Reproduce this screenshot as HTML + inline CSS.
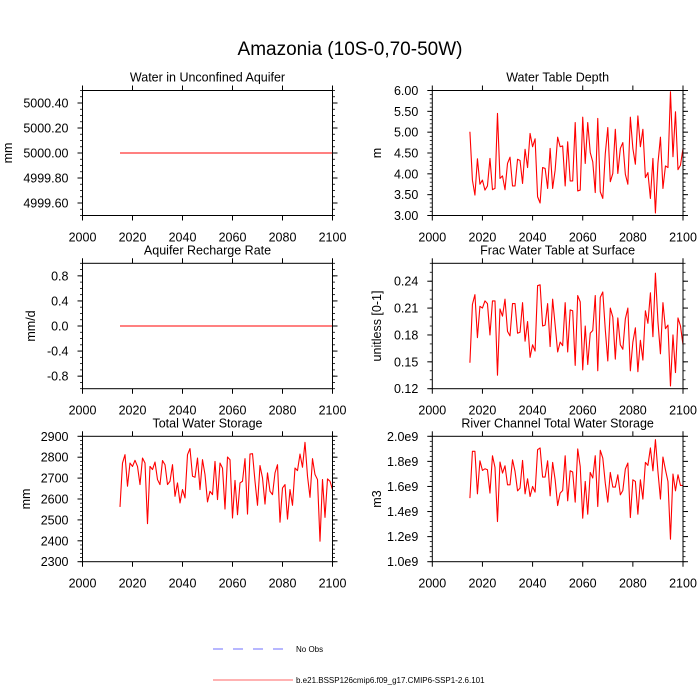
<!DOCTYPE html>
<html><head><meta charset="utf-8"><style>
body{margin:0;background:#fff;}
svg{display:block;font-family:"Liberation Sans",sans-serif;}
</style></head><body>
<svg id="chart" width="700" height="700" viewBox="0 0 700 700">
<text x="350" y="55" text-anchor="middle" font-size="19">Amazonia (10S-0,70-50W)</text>
<g>
<line x1="213" y1="649" x2="287" y2="649" stroke="#6f6fff" stroke-width="1" stroke-dasharray="10,10"/>
<text x="296" y="652" font-size="8">No Obs</text>
<line x1="213" y1="680" x2="293" y2="680" stroke="#ff6666" stroke-width="1"/>
<text x="296" y="683" font-size="8">b.e21.BSSP126cmip6.f09_g17.CMIP6-SSP1-2.6.101</text>
</g>
</svg>
<script>
const years = []; for (let y = 2015; y <= 2100; y++) years.push(y);
const aquiferWater = years.map(() => 5000.0);
const rechargeRate = years.map(() => 0.0);
const waterTableDepth = [5.01,3.85,3.49,4.36,3.75,3.85,3.61,3.71,4.37,3.62,3.65,5.45,3.89,3.95,3.62,4.25,4.40,3.71,3.71,4.35,4.32,3.77,4.59,4.15,4.97,4.65,4.84,3.45,3.30,4.15,4.13,3.65,4.61,3.65,4.09,4.88,4.65,4.67,3.71,4.77,3.83,3.83,5.23,3.59,3.61,5.36,4.25,5.23,4.51,4.29,3.55,5.33,3.57,3.41,4.48,5.11,3.81,4.01,5.07,4.01,4.61,4.75,3.99,3.75,5.36,4.61,4.23,5.39,4.65,5.07,3.91,4.03,3.41,4.37,3.06,4.25,4.88,3.65,4.19,4.15,5.97,4.41,5.49,4.10,4.21,4.61];
const fracWaterTable = [0.149,0.214,0.225,0.177,0.212,0.210,0.218,0.215,0.180,0.218,0.218,0.135,0.209,0.201,0.220,0.184,0.179,0.215,0.215,0.182,0.183,0.216,0.173,0.195,0.155,0.169,0.162,0.235,0.236,0.190,0.191,0.215,0.167,0.220,0.191,0.161,0.172,0.168,0.216,0.161,0.208,0.207,0.146,0.224,0.217,0.141,0.190,0.147,0.182,0.185,0.224,0.140,0.222,0.228,0.186,0.151,0.210,0.200,0.153,0.199,0.169,0.164,0.198,0.210,0.140,0.172,0.188,0.139,0.174,0.152,0.207,0.193,0.227,0.178,0.249,0.195,0.159,0.216,0.187,0.191,0.123,0.180,0.138,0.199,0.190,0.169];
const totalWaterStorage = [2562,2772,2812,2661,2772,2756,2785,2756,2669,2796,2772,2482,2756,2741,2777,2693,2669,2784,2764,2669,2685,2764,2613,2677,2581,2645,2605,2812,2841,2709,2704,2796,2645,2788,2717,2586,2637,2621,2780,2597,2772,2748,2552,2801,2788,2509,2689,2525,2677,2685,2793,2528,2815,2817,2685,2570,2760,2701,2576,2725,2637,2621,2725,2764,2489,2653,2669,2504,2645,2570,2748,2736,2815,2752,2871,2709,2608,2793,2717,2693,2398,2693,2512,2696,2685,2645];
const riverStorage = [1.507,1.880,1.880,1.541,1.805,1.728,1.741,1.733,1.547,1.845,1.752,1.320,1.795,1.707,1.765,1.613,1.613,1.813,1.720,1.565,1.587,1.808,1.541,1.661,1.520,1.600,1.555,1.893,1.907,1.675,1.675,1.805,1.525,1.792,1.653,1.448,1.547,1.568,1.845,1.485,1.725,1.715,1.475,1.899,1.760,1.347,1.640,1.379,1.712,1.667,1.845,1.440,1.888,1.827,1.627,1.475,1.712,1.595,1.595,1.693,1.533,1.568,1.739,1.787,1.352,1.653,1.640,1.379,1.653,1.499,1.792,1.768,1.907,1.725,1.973,1.720,1.499,1.835,1.733,1.640,1.179,1.699,1.565,1.693,1.608,1.608].map(v => v * 1e9);
const xTicks = [2000,2020,2040,2060,2080,2100];
const ticks1 = [4999.6,4999.8,5000.0,5000.2,5000.4];
const tickLabels1 = ["4999.60","4999.80","5000.00","5000.20","5000.40"];
const ticks2 = [3.0,3.5,4.0,4.5,5.0,5.5,6.0];
const tickLabels2 = ["3.00","3.50","4.00","4.50","5.00","5.50","6.00"];
const ticks3 = [-0.8,-0.4,0.0,0.4,0.8];
const tickLabels3 = ["-0.8","-0.4","0.0","0.4","0.8"];
const ticks4 = [0.12,0.15,0.18,0.21,0.24];
const tickLabels4 = ["0.12","0.15","0.18","0.21","0.24"];
const ticks5 = [2300,2400,2500,2600,2700,2800,2900];
const tickLabels5 = ["2300","2400","2500","2600","2700","2800","2900"];
const ticks6 = [1.0e9,1.2e9,1.4e9,1.6e9,1.8e9,2.0e9];
const tickLabels6 = ["1.0e9","1.2e9","1.4e9","1.6e9","1.8e9","2.0e9"];

const NS = "http://www.w3.org/2000/svg";
const svg = document.getElementById('chart');
function mk(tag, attrs, parent) {
  const e = document.createElementNS(NS, tag);
  for (const k in attrs) e.setAttribute(k, attrs[k]);
  parent.appendChild(e); return e;
}
const COLS = [[82.5,332.5],[432.3,683]];
const ROWS = [[90.5,215.5],[263.3,388.7],[436.3,561.7]];
const panels = [
  {name:'aquifer-water', title:'Water in Unconfined Aquifer', col:0,row:0, ymin:4999.5,ymax:5000.5, ticks:ticks1, labels:tickLabels1, minor:0.05, data:aquiferWater, ylab:'mm', ylx:12},
  {name:'water-table-depth', title:'Water Table Depth', col:1,row:0, ymin:3,ymax:6, ticks:ticks2, labels:tickLabels2, minor:0.1, data:waterTableDepth, ylab:'m', ylx:381},
  {name:'recharge-rate', title:'Aquifer Recharge Rate', col:0,row:1, ymin:-1,ymax:1, ticks:ticks3, labels:tickLabels3, minor:0.1, data:rechargeRate, ylab:'mm/d', ylx:35},
  {name:'frac-water-table', title:'Frac Water Table at Surface', col:1,row:1, ymin:0.12,ymax:0.26, ticks:ticks4, labels:tickLabels4, minor:0.01, data:fracWaterTable, ylab:'unitless [0-1]', ylx:381},
  {name:'total-water-storage', title:'Total Water Storage', col:0,row:2, ymin:2300,ymax:2900, ticks:ticks5, labels:tickLabels5, minor:20, data:totalWaterStorage, ylab:'mm', ylx:30},
  {name:'river-storage', title:'River Channel Total Water Storage', col:1,row:2, ymin:1.0e9,ymax:2.0e9, ticks:ticks6, labels:tickLabels6, minor:0.04e9, data:riverStorage, ylab:'m3', ylx:381}
];
panels.forEach(p => {
  const [x0,x1] = COLS[p.col], [y0,y1] = ROWS[p.row];
  const g = mk('g', {}, svg);
  
  
  const xs = v => x0 + (v-2000)/100*(x1-x0);
  const ys = v => y1 - (v-p.ymin)/(p.ymax-p.ymin)*(y1-y0);
  const t = mk('text', {x:(x0+x1)/2, y:y0-9, 'text-anchor':'middle','font-size':12.5}, g);
  t.textContent = p.title;
  
  
  const nMinor = Math.round((p.ymax-p.ymin)/p.minor);
  for (let i=0;i<=nMinor;i++){
    const yy = ys(p.ymin + i*p.minor);
    mk('line',{x1:x0-2.5,x2:x0,y1:yy,y2:yy,stroke:'#000','stroke-width':0.8},g);
    mk('line',{x1:x1,x2:x1+2.5,y1:yy,y2:yy,stroke:'#000','stroke-width':0.8},g);
  }
  p.ticks.forEach((v,i) => {
    const yy = ys(v);
    mk('line',{x1:x0-5,x2:x0,y1:yy,y2:yy,stroke:'#000','stroke-width':1},g);
    mk('line',{x1:x1,x2:x1+5,y1:yy,y2:yy,stroke:'#000','stroke-width':1},g);
    const l = mk('text',{x:x0-14,y:yy+4.5,'text-anchor':'end','font-size':12.5},g);
    l.textContent = p.labels[i];
    
    
  });
  xTicks.forEach(v => {
    const xx = xs(v);
    mk('line',{x1:xx,x2:xx,y1:y1,y2:y1+5,stroke:'#000','stroke-width':1},g);
    mk('line',{x1:xx,x2:xx,y1:y0-5,y2:y0,stroke:'#000','stroke-width':1},g);
    const l = mk('text',{x:xx,y:y1+26,'text-anchor':'middle','font-size':12.5},g);
    l.textContent = v;
    
    
  });
  const yl = mk('text',{x:p.ylx,y:(y0+y1)/2,'text-anchor':'middle','font-size':12.5,transform:`rotate(-90 ${p.ylx} ${(y0+y1)/2})`},g);
  yl.textContent = p.ylab;
  
  
  const pts = p.data.map((v,i) => xs(years[i]).toFixed(2)+','+ys(v).toFixed(2)).join(' ');
  const line = mk('polyline',{points:pts,fill:'none',stroke:'#ff0000','stroke-width':1.1,'stroke-linejoin':'round'},g);
  
  
  const box = mk('rect',{x:x0,y:y0,width:x1-x0,height:y1-y0,fill:'none',stroke:'#000','stroke-width':1},g);
  
  
});
</script>
</body></html>
